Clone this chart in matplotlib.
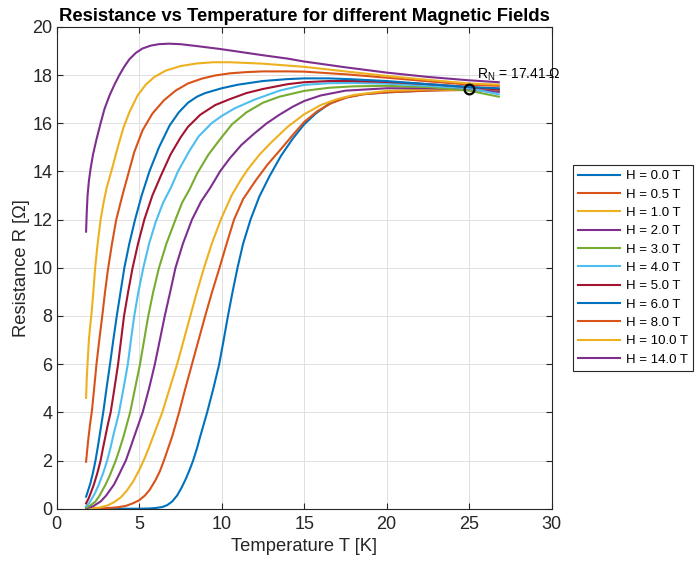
import matplotlib
matplotlib.use("Agg")
import matplotlib.pyplot as plt

# field values and colours (MATLAB default order)
fields = [0.0, 0.5, 1.0, 2.0, 3.0, 4.0, 5.0, 6.0, 8.0, 10.0, 14.0]
colors = ["#0072BD", "#D95319", "#EDB120", "#7E2F8E", "#77AC30", "#4DBEEE",
          "#A2142F", "#0072BD", "#D95319", "#EDB120", "#7E2F8E"]

# temperature / resistance, one pair of lists per field
T_h0 = [1.78, 5.0, 5.6, 6.0, 6.4, 6.7, 7.0, 7.3, 7.55, 7.8, 8.05, 8.27, 8.5, 8.7, 9.12, 9.5, 9.85, 10.12, 10.38, 10.66, 10.96, 11.3, 11.75, 12.28, 12.9, 13.6, 14.3, 15.0, 15.7, 16.5, 17.4, 18.5, 20.0, 22.5, 25.0, 26.8]
R_h0 = [0.0, 0.0, 0.01, 0.03, 0.07, 0.15, 0.3, 0.55, 0.85, 1.2, 1.6, 2.0, 2.5, 3.0, 4.0, 5.0, 6.0, 7.0, 8.0, 9.0, 10.0, 11.0, 12.0, 12.95, 13.8, 14.65, 15.35, 15.95, 16.4, 16.8, 17.05, 17.2, 17.28, 17.36, 17.41, 17.38]

T_h05 = [1.78, 3.0, 3.7, 4.2, 4.6, 5.0, 5.35, 5.65, 6.0, 6.25, 6.5, 6.75, 7.0, 7.42, 7.8, 8.2, 8.6, 9.0, 9.42, 9.87, 10.3, 10.75, 11.3, 12.08, 12.8, 13.5, 14.3, 15.0, 15.8, 16.7, 17.6, 18.6, 20.0, 22.5, 25.0, 26.8]
R_h05 = [0.0, 0.02, 0.06, 0.12, 0.22, 0.35, 0.55, 0.8, 1.2, 1.55, 2.0, 2.5, 3.0, 4.0, 5.0, 6.0, 7.0, 8.0, 9.0, 10.0, 11.0, 12.0, 12.85, 13.64, 14.3, 14.85, 15.5, 16.05, 16.5, 16.85, 17.07, 17.2, 17.28, 17.35, 17.38, 17.35]

T_h1 = [1.78, 2.6, 3.1, 3.5, 3.9, 4.25, 4.65, 5.0, 5.3, 5.6, 5.9, 6.15, 6.4, 6.85, 7.3, 7.7, 8.1, 8.5, 8.93, 9.4, 9.95, 10.6, 11.15, 11.6, 12.3, 13.0, 14.0, 15.0, 16.0, 17.0, 18.0, 20.0, 22.5, 25.0, 26.8]
R_h1 = [0.01, 0.05, 0.14, 0.28, 0.48, 0.75, 1.15, 1.6, 2.05, 2.55, 3.1, 3.55, 4.0, 5.0, 6.0, 7.0, 8.0, 9.0, 10.0, 11.0, 12.0, 13.0, 13.64, 14.1, 14.7, 15.2, 15.85, 16.37, 16.75, 17.0, 17.17, 17.34, 17.4, 17.38, 17.35]

T_h2 = [1.78, 2.2, 2.66, 3.0, 3.47, 3.8, 4.19, 4.45, 4.7, 5.21, 5.6, 5.95, 6.25, 6.55, 6.88, 7.2, 7.65, 8.2, 8.75, 9.29, 9.59, 9.9, 10.5, 11.2, 11.94, 12.7, 13.5, 14.3, 15.0, 16.0, 17.5, 20.0, 22.5, 25.0, 26.8]
R_h2 = [0.02, 0.1, 0.3, 0.55, 1.0, 1.45, 2.0, 2.5, 3.0, 4.0, 5.0, 6.0, 7.0, 8.0, 9.0, 10.0, 11.0, 12.0, 12.75, 13.3, 13.64, 14.0, 14.55, 15.1, 15.55, 15.98, 16.35, 16.68, 16.92, 17.15, 17.35, 17.45, 17.45, 17.4, 17.3]

T_h3 = [1.78, 2.0, 2.2, 2.35, 2.6, 2.96, 3.2, 3.58, 3.8, 4.05, 4.45, 4.75, 5.05, 5.3, 5.55, 5.85, 6.2, 6.65, 7.2, 7.6, 8.05, 8.5, 9.2, 9.9, 10.62, 11.5, 12.5, 13.5, 15.0, 16.5, 18.0, 20.0, 22.5, 25.0, 26.8]
R_h3 = [0.05, 0.12, 0.22, 0.3, 0.55, 1.0, 1.35, 2.0, 2.45, 3.0, 4.0, 5.0, 6.0, 7.0, 8.0, 9.0, 10.0, 11.0, 12.0, 12.7, 13.25, 13.9, 14.7, 15.33, 15.95, 16.45, 16.85, 17.1, 17.34, 17.47, 17.53, 17.55, 17.5, 17.35, 17.1]

T_h4 = [1.78, 1.95, 2.1, 2.3, 2.55, 2.8, 3.06, 3.25, 3.45, 3.6, 3.78, 4.05, 4.31, 4.5, 4.7, 4.95, 5.25, 5.6, 6.0, 6.45, 6.94, 7.35, 8.0, 8.6, 9.39, 10.0, 10.8, 12.0, 13.5, 15.0, 16.5, 18.0, 20.0, 22.5, 25.0, 26.8]
R_h4 = [0.1, 0.22, 0.38, 0.62, 1.0, 1.45, 2.0, 2.5, 3.1, 3.5, 4.0, 5.0, 6.0, 7.0, 8.0, 9.0, 10.0, 11.0, 11.9, 12.7, 13.35, 14.0, 14.8, 15.45, 16.0, 16.3, 16.62, 16.98, 17.35, 17.59, 17.66, 17.67, 17.64, 17.55, 17.45, 17.2]

T_h5 = [1.78, 1.95, 2.1, 2.25, 2.45, 2.66, 2.8, 2.95, 3.1, 3.27, 3.5, 3.72, 3.9, 4.08, 4.33, 4.6, 4.93, 5.31, 5.8, 6.3, 6.9, 7.5, 7.96, 8.7, 9.6, 10.5, 11.5, 12.5, 14.0, 15.0, 16.5, 18.0, 20.0, 22.5, 25.0, 26.8]
R_h5 = [0.22, 0.45, 0.72, 1.0, 1.45, 2.0, 2.5, 3.0, 3.5, 4.0, 5.0, 6.0, 7.0, 8.0, 9.0, 10.0, 11.0, 12.0, 13.0, 13.8, 14.7, 15.4, 15.85, 16.35, 16.75, 17.0, 17.25, 17.42, 17.62, 17.7, 17.75, 17.75, 17.71, 17.62, 17.5, 17.4]

T_h6 = [1.78, 1.9, 2.04, 2.2, 2.35, 2.5, 2.65, 2.82, 3.02, 3.23, 3.43, 3.64, 3.87, 4.1, 4.4, 4.75, 5.15, 5.62, 6.2, 6.84, 7.4, 7.96, 8.5, 9.0, 10.0, 11.0, 12.5, 14.0, 15.0, 16.5, 18.0, 20.0, 22.5, 25.0, 26.8]
R_h6 = [0.5, 0.75, 1.05, 1.5, 2.0, 2.6, 3.25, 4.0, 5.0, 6.0, 7.0, 8.0, 9.0, 10.0, 11.0, 12.0, 13.0, 14.0, 15.0, 15.9, 16.45, 16.85, 17.1, 17.25, 17.45, 17.6, 17.75, 17.83, 17.86, 17.86, 17.82, 17.75, 17.62, 17.5, 17.45]

T_h8 = [1.78, 1.9, 2.02, 2.14, 2.27, 2.41, 2.58, 2.76, 2.93, 3.1, 3.35, 3.61, 3.98, 4.3, 4.7, 5.2, 5.8, 6.5, 7.2, 7.96, 8.8, 9.6, 10.5, 11.5, 12.5, 14.0, 15.0, 17.5, 20.0, 22.5, 25.0, 26.8]
R_h8 = [1.95, 2.8, 3.5, 4.1, 5.0, 6.0, 7.0, 8.0, 9.0, 9.9, 11.0, 12.0, 13.0, 13.8, 14.8, 15.7, 16.4, 16.95, 17.35, 17.65, 17.85, 17.98, 18.07, 18.12, 18.15, 18.15, 18.14, 18.03, 17.89, 17.74, 17.6, 17.55]

T_h10 = [1.78, 1.82, 1.88, 1.95, 2.03, 2.11, 2.22, 2.33, 2.48, 2.66, 2.84, 3.02, 3.37, 3.7, 4.04, 4.4, 4.9, 5.4, 5.92, 6.6, 7.5, 8.5, 9.5, 10.5, 12.5, 15.0, 17.5, 20.0, 22.5, 25.0, 26.8]
R_h10 = [4.6, 5.4, 6.17, 7.0, 7.6, 8.1, 9.0, 10.0, 11.0, 12.0, 12.7, 13.3, 14.15, 15.0, 15.8, 16.45, 17.15, 17.6, 17.92, 18.18, 18.37, 18.48, 18.53, 18.53, 18.47, 18.34, 18.15, 17.96, 17.8, 17.65, 17.6]

T_h14 = [1.78, 1.82, 1.87, 1.95, 2.05, 2.2, 2.4, 2.66, 2.9, 3.2, 3.5, 3.8, 4.1, 4.4, 4.8, 5.2, 5.7, 6.2, 6.8, 7.5, 8.5, 9.9, 11.0, 12.5, 14.0, 15.0, 17.5, 20.0, 22.5, 25.0, 26.8]
R_h14 = [11.5, 12.3, 13.0, 13.6, 14.1, 14.7, 15.3, 16.0, 16.6, 17.15, 17.6, 18.0, 18.35, 18.65, 18.92, 19.1, 19.22, 19.28, 19.3, 19.28, 19.2, 19.08, 18.97, 18.82, 18.68, 18.56, 18.32, 18.1, 17.92, 17.78, 17.7]

temps = [T_h0, T_h05, T_h1, T_h2, T_h3, T_h4, T_h5, T_h6, T_h8, T_h10, T_h14]
resist = [R_h0, R_h05, R_h1, R_h2, R_h3, R_h4, R_h5, R_h6, R_h8, R_h10, R_h14]

T_N = 25.0
R_N = 17.41

plt.rcParams["font.family"] = ["Liberation Sans", "DejaVu Sans"]
plt.rcParams["mathtext.default"] = "regular"

fig = plt.figure(figsize=(6.96, 5.61), dpi=100)
ax = fig.add_axes([0.0815, 0.0932, 0.711, 0.859])

for H, c, T, R in zip(fields, colors, temps, resist):
    ax.plot(T, R, color=c, lw=1.5, label=f"H = {H:.1f} T")

ax.plot(T_N, R_N, "o", color="black", mfc="none", ms=7, mew=1.6)
ax.text(T_N + 0.5, R_N + 0.45, f"R$_N$ = {R_N:.2f} Ω", fontsize=10, color="black")

ax.set_xlim(0, 30)
ax.set_ylim(0, 20)
ax.set_xticks(range(0, 31, 5))
ax.set_yticks(range(0, 21, 2))
ax.grid(True, color="#e0e0e0", lw=0.7)
ax.set_axisbelow(True)
for s in ax.spines.values():
    s.set_color("#262626")
    s.set_linewidth(0.8)
ax.tick_params(direction="in", length=4, width=0.8, colors="#262626", labelsize=13,
               top=True, right=True)
ax.tick_params(axis="x", pad=5.5)
ax.tick_params(axis="y", pad=3)
ax.set_xlabel("Temperature T [K]", fontsize=13.2, color="#262626", labelpad=3)
ax.set_ylabel("Resistance R [Ω]", fontsize=13.2, color="#262626", labelpad=1.5)
ax.set_title("Resistance vs Temperature for different Magnetic Fields",
             fontsize=13.3, fontweight="bold", pad=4)

leg = ax.legend(loc="upper left", bbox_to_anchor=(0.823, 0.706), bbox_transform=fig.transFigure,
                fontsize=9.5, handlelength=3.2, handletextpad=0.4, labelspacing=0.46,
                borderpad=0.4, borderaxespad=0, frameon=True, fancybox=False, framealpha=1)
leg.get_frame().set_edgecolor("#262626")
leg.get_frame().set_linewidth(0.8)

fig.savefig("out.png", dpi=100)
